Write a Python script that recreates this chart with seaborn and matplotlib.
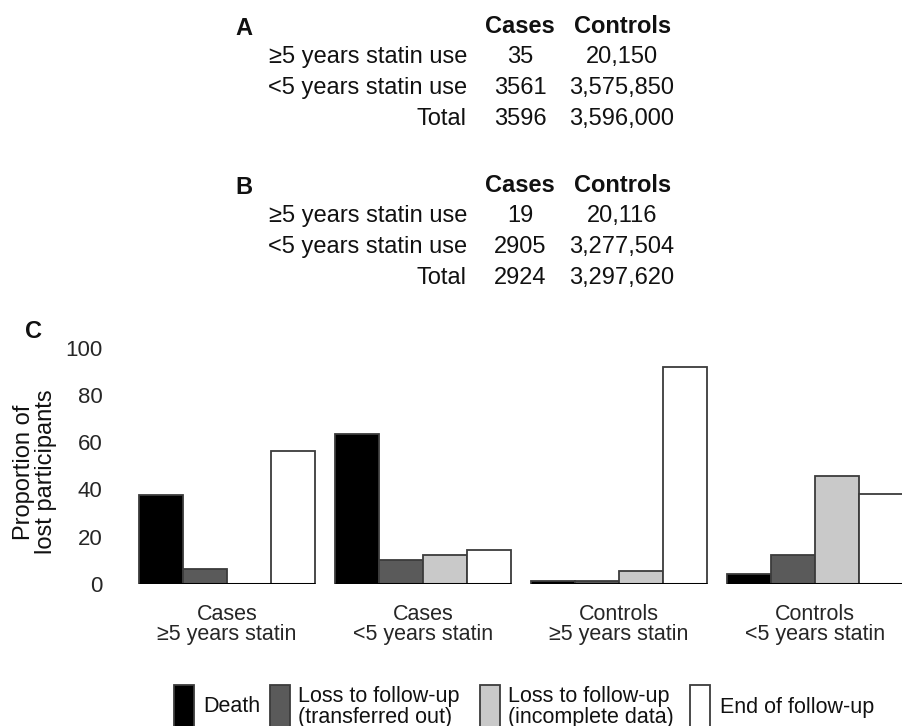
import matplotlib
matplotlib.use("Agg")
import matplotlib.pyplot as plt
from matplotlib.patches import Rectangle
import pandas as pd
import seaborn as sns

# ---- data -------------------------------------------------------------
groups = ["Cases\n≥5 years statin", "Cases\n<5 years statin",
          "Controls\n≥5 years statin", "Controls\n<5 years statin"]
reasons = ["Death", "Loss to follow-up\n(transferred out)",
           "Loss to follow-up\n(incomplete data)", "End of follow-up"]
death = [37.5, 63.3, 1.4, 4.2]
transferred_out = [6.3, 10.1, 1.4, 12.1]
incomplete_data = [0.0, 12.2, 5.5, 45.7]
end_of_follow_up = [56.2, 14.4, 91.7, 38.0]
y_ticks = [0, 20, 40, 60, 80, 100]

table_cols = ["Cases", "Controls"]
table_rows = ["≥5 years statin use", "<5 years statin use", "Total"]
cases_a = ["35", "3561", "3596"]
controls_a = ["20,150", "3,575,850", "3,596,000"]
cases_b = ["19", "2905", "2924"]
controls_b = ["20,116", "3,277,504", "3,297,620"]

colors = ["#000000", "#5a5a5a", "#c9c9c9", "#ffffff"]
edge = "#3c3c3c"

# ---- style -----------------------------------------------------------
sns.set_style("white")
plt.rcParams["font.family"] = ["Liberation Sans", "DejaVu Sans"]
plt.rcParams["text.color"] = "#111111"

W, H = 902, 726
fig = plt.figure(figsize=(W / 100, H / 100), dpi=100)


def fx(x):
    return x / W


def fy(y):
    return 1 - y / H


# ---- panels A and B: count tables ------------------------------------
def draw_table(letter, base, cases, controls):
    fig.text(fx(235), fy(base + 2), letter, fontsize=17, fontweight="bold",
             ha="left", va="baseline")
    fig.text(fx(520), fy(base), table_cols[0], fontsize=17, fontweight="bold",
             ha="center", va="baseline")
    fig.text(fx(623), fy(base), table_cols[1], fontsize=17, fontweight="bold",
             ha="center", va="baseline")
    for i, (lab, c, k) in enumerate(zip(table_rows, cases, controls)):
        yb = base + [30, 61, 92][i]
        fig.text(fx(467), fy(yb), lab, fontsize=17, ha="right", va="baseline")
        fig.text(fx(520), fy(yb), c, fontsize=17, ha="center", va="baseline")
        fig.text(fx(622), fy(yb), k, fontsize=17, ha="center", va="baseline")


draw_table("A", 33, cases_a, controls_a)
draw_table("B", 192, cases_b, controls_b)

# ---- panel C: grouped bars -------------------------------------------
df = pd.DataFrame({
    "group": groups * 4,
    "reason": [r for r in reasons for _ in groups],
    "value": death + transferred_out + incomplete_data + end_of_follow_up,
})

ax_left, ax_w = 128.9, 784.0
ax_bottom, ax_top = 584.0, 347.7
ax = fig.add_axes([fx(ax_left), fy(ax_bottom), ax_w / W, (ax_bottom - ax_top) / H])

sns.barplot(data=df, x="group", y="value", hue="reason", order=groups,
            hue_order=reasons, palette=colors, width=0.9, gap=0,
            edgecolor=edge, linewidth=1.3, saturation=1, legend=False, ax=ax)

ax.set_xlim(-0.5, 3.5)
ax.set_ylim(0, 100)
ax.set_yticks(y_ticks)
ax.set_yticklabels([str(t) for t in y_ticks])
for s in ax.spines.values():
    s.set_visible(False)
ax.tick_params(axis="y", length=0, pad=19, labelsize=16)
ax.tick_params(axis="x", length=0, pad=14.5, labelsize=15.5)
for t in ax.get_xticklabels():
    t.set_linespacing(0.95)
ax.set_xlabel("")
ax.set_ylabel("")

# baseline drawn under each group of bars
for pos in ax.get_xticks():
    ax.hlines(0, pos - 0.45, pos + 0.45, color="#000000", lw=2.2, zorder=5)

fig.text(fx(34), fy(331), "C", fontsize=17, fontweight="bold",
         ha="center", va="center")
fig.text(fx(35), fy(472), "Proportion of\nlost participants", fontsize=17,
         rotation=90, ha="center", va="center", linespacing=0.95)

# ---- legend ----------------------------------------------------------
patch_x = [174, 269.5, 480, 690]
text_x = [203, 298, 508, 720]
for px_, tx_, col, lab in zip(patch_x, text_x, colors, reasons):
    fig.add_artist(Rectangle((fx(px_), fy(730)), 20 / W, 45 / H,
                             transform=fig.transFigure, facecolor=col,
                             edgecolor=edge, linewidth=1.3))
    fig.text(fx(tx_), fy(707), lab, fontsize=15.5, ha="left", va="center",
             linespacing=0.95)

fig.savefig("out.png", dpi=100)
